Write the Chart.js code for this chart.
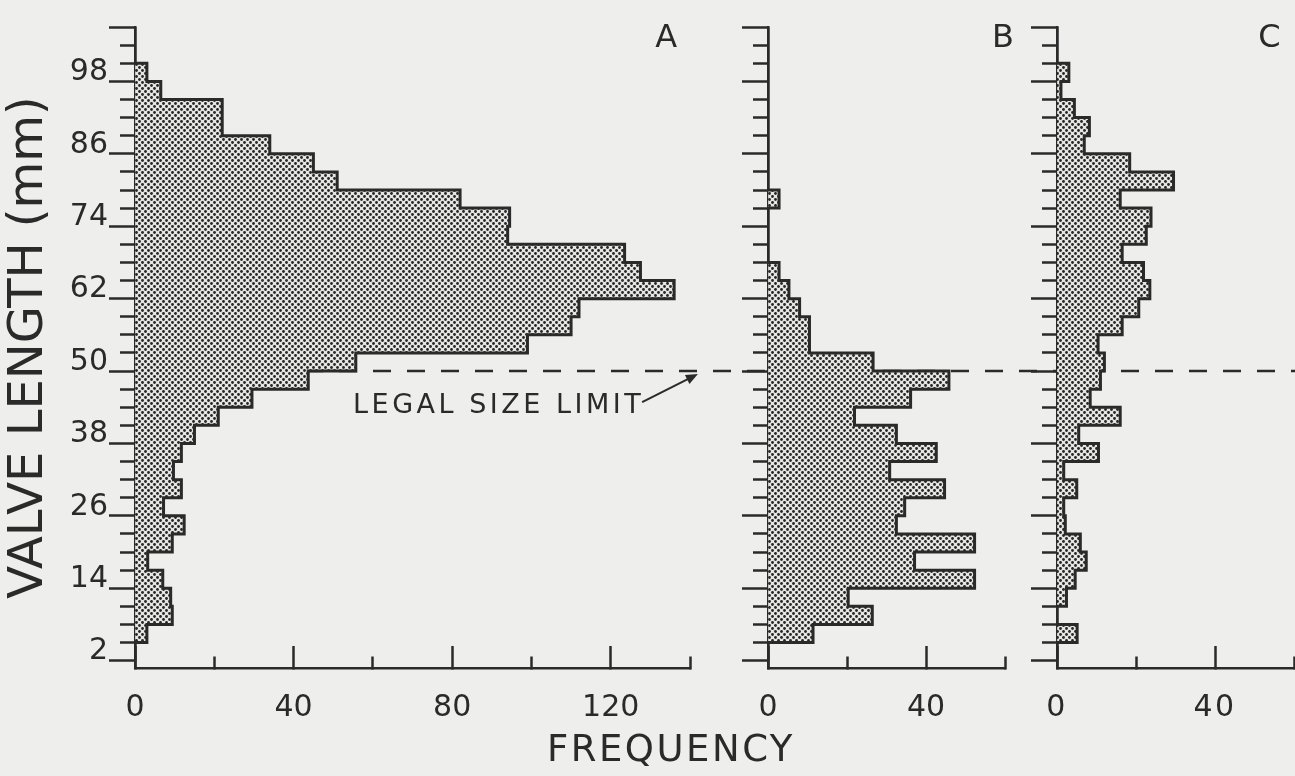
<!DOCTYPE html>
<html>
<head>
<meta charset="utf-8">
<script src="https://cdn.jsdelivr.net/npm/chart.js@4.4.1/dist/chart.umd.min.js"></script>
<style>
  html, body { margin: 0; padding: 0; background: #eeeeec; }
  #wrap { position: relative; width: 1295px; height: 776px; }
  #wrap canvas { position: absolute; left: 0; top: 0; }
</style>
</head>
<body>
<div id="wrap">
  <canvas id="chart_a" width="1295" height="776"></canvas>
  <canvas id="chart_b" width="1295" height="776"></canvas>
  <canvas id="chart_c" width="1295" height="776"></canvas>
</div>
<script>
// valve length classes (mm), 3 mm bins centred on the ticks
const lengthBins = [2, 5, 8, 11, 14, 17, 20, 23, 26, 29, 32, 35, 38, 41, 44, 47, 50, 53, 56, 59,
                    62, 65, 68, 71, 74, 77, 80, 83, 86, 89, 92, 95, 98, 101, 104];
const lengthLabels = [2, 14, 26, 38, 50, 62, 74, 86, 98];

const freqA = [0, 3, 9.4, 9, 7, 3.2, 9.4, 12.4, 7.2, 11.7, 9.7, 11.7, 15, 21, 29.5, 43.7, 55.7, 99, 110, 112,
               136, 127.5, 123.5, 94, 94.5, 82, 51, 45, 34, 22, 22, 6.5, 3, 0, 0];
const freqB = [0, 11.4, 26.4, 20.3, 52.3, 37.1, 52.3, 32.5, 34.6, 44.7, 30.8, 42.6, 32.5, 21.9, 36.1, 45.8, 26.6, 10.5, 10.5, 8,
               5.3, 2.8, 0, 0, 0, 2.8, 0, 0, 0, 0, 0, 0, 0, 0, 0];
const freqC = [0, 5.1, 0, 2.4, 4.6, 7.4, 5.9, 2.1, 1.7, 5, 1.7, 10.5, 5.5, 16, 8.4, 11, 12, 10.4, 16.5, 20.7,
               23.5, 21.9, 16.5, 22.6, 23.8, 16, 29.5, 18.4, 6.9, 8.2, 4.4, 1, 3, 0, 0];

const freqTicksA = [0, 40, 80, 120];
const freqTicksBC = [0, 40];
const legalSizeLimit = 48.5;

const ink = '#2a2a2a';
const fontFamily = "'DejaVu Sans', 'Lato', sans-serif";

function dotPattern() {
    const tile = document.createElement('canvas');
    tile.width = 6;
    tile.height = 6;
    const g = tile.getContext('2d');
    g.fillStyle = '#e6e6e3';
    g.fillRect(0, 0, 6, 6);
    g.fillStyle = '#262626';
    [[1.5, 1.5], [4.5, 4.5]].forEach(([cx, cy]) => {
        g.beginPath();
        g.arc(cx, cy, 1.4, 0, Math.PI * 2);
        g.fill();
    });
    return g.createPattern(tile, 'repeat');
}
const stipple = dotPattern();

function freqGrid(max) {
    const t = [];
    for (let v = 0; v <= max; v += 20) t.push(v);
    return t;
}

// panel letters, legal size line and its note
const panelMarks = {
    id: 'panelMarks',
    beforeDraw(chart, args, opts) {
        chart.ctx.letterSpacing = opts.spacing || '0px';
    },
    beforeDatasetsDraw(chart, args, opts) {
        if (!opts.limitLine) return;
        const {ctx, scales: {x, y}} = chart;
        const py = y.getPixelForValue(legalSizeLimit);
        ctx.save();
        ctx.strokeStyle = ink;
        ctx.lineWidth = 2.5;
        ctx.setLineDash([18, 16]);
        ctx.beginPath();
        ctx.moveTo(x.getPixelForValue(0), py);
        ctx.lineTo(chart.width, py);
        ctx.stroke();
        ctx.restore();
    },
    afterDraw(chart, args, opts) {
        const {ctx, scales: {x, y}} = chart;
        ctx.save();
        ctx.fillStyle = ink;
        ctx.letterSpacing = '0px';
        ctx.font = '32px ' + fontFamily;
        ctx.textAlign = 'center';
        ctx.textBaseline = 'alphabetic';
        ctx.fillText(opts.letter, x.getPixelForValue(opts.letterAt), y.getPixelForValue(102.15));
        if (opts.limitText) {
            ctx.font = '27px ' + fontFamily;
            ctx.letterSpacing = '3.5px';
            ctx.textAlign = 'left';
            ctx.textBaseline = 'middle';
            const tx = x.getPixelForValue(55);
            const ty = y.getPixelForValue(42.7);
            ctx.fillText('LEGAL SIZE LIMIT', tx, ty);
            const w = ctx.measureText('LEGAL SIZE LIMIT').width;
            const x0 = tx + w - 2, y0 = ty - 4;
            const x1 = x.getPixelForValue(142), y1 = y.getPixelForValue(48);
            const a = Math.atan2(y1 - y0, x1 - x0);
            ctx.strokeStyle = ink;
            ctx.lineWidth = 2;
            ctx.beginPath();
            ctx.moveTo(x0, y0);
            ctx.lineTo(x1 - 8 * Math.cos(a), y1 - 8 * Math.sin(a));
            ctx.stroke();
            ctx.beginPath();
            ctx.moveTo(x1, y1);
            ctx.lineTo(x1 - 12 * Math.cos(a) + 5 * Math.sin(a), y1 - 12 * Math.sin(a) - 5 * Math.cos(a));
            ctx.lineTo(x1 - 12 * Math.cos(a) - 5 * Math.sin(a), y1 - 12 * Math.sin(a) + 5 * Math.cos(a));
            ctx.closePath();
            ctx.fill();
        }
        ctx.restore();
    }
};

function noScalePadding(s) {
    s.paddingLeft = 0;
    s.paddingRight = 0;
    s.paddingTop = 0;
    s.paddingBottom = 0;
}

function makePanel(p) {
    const half = 1.5;
    const bars = lengthBins.map((len, i) => ({x: p.freq[i], y: len}));
    const outline = [{x: 0, y: lengthBins[0] - half}];
    lengthBins.forEach((len, i) => {
        outline.push({x: p.freq[i], y: len - half}, {x: p.freq[i], y: len + half});
    });
    outline.push({x: 0, y: lengthBins[lengthBins.length - 1] + half});

    const tickFont = {family: fontFamily, size: 30};
    const isMajorFreq = c => !c.tick || p.majorTicks.includes(c.tick.value);
    const isMajorLength = c => !c.tick || lengthLabels.includes(c.tick.value);

    return new Chart(document.getElementById(p.id), {
        type: 'bar',
        data: {
            datasets: [{
                type: 'line',
                data: outline,
                borderColor: ink,
                borderWidth: 3,
                pointRadius: 0,
                fill: false,
                tension: 0,
                order: 0
            }, {
                type: 'bar',
                data: bars,
                backgroundColor: stipple,
                borderWidth: 0,
                barPercentage: 1,
                categoryPercentage: 1,
                order: 1
            }]
        },
        options: {
            indexAxis: 'y',
            responsive: false,
            devicePixelRatio: 1,
            animation: false,
            events: [],
            layout: {padding: {left: p.pad.left, right: p.pad.right, top: 27, bottom: 0}},
            scales: {
                x: {
                    type: 'linear', position: 'bottom',
                    min: 0, max: p.max, bounds: 'data',
                    afterFit: s => { s.height = p.xHeight; noScalePadding(s); },
                    afterBuildTicks: s => { s.ticks = freqGrid(p.max).map(v => ({value: v})); },
                    grid: {
                        drawOnChartArea: false,
                        tickLength: -22,
                        tickColor: ink,
                        tickWidth: 2.5,
                        // short ticks between the labelled ones
                        tickBorderDash: c => isMajorFreq(c) ? [] : [13, 40]
                    },
                    border: {display: true, color: ink, width: 2.5},
                    ticks: {
                        autoSkip: false, maxRotation: 0, padding: 44, color: ink, font: tickFont,
                        callback: v => p.majorTicks.includes(v) ? String(v) : ''
                    }
                },
                y: {
                    type: 'linear', position: 'left',
                    min: 0.8, max: 104, bounds: 'data',
                    afterFit: s => { s.width = p.yWidth; noScalePadding(s); },
                    afterBuildTicks: s => { s.ticks = lengthBins.map(v => ({value: v})); },
                    grid: {
                        drawOnChartArea: false,
                        tickLength: 26,
                        tickColor: ink,
                        tickWidth: 2.5,
                        tickBorderDash: c => isMajorLength(c) ? [] : [0, 11, 40]
                    },
                    border: {display: true, color: ink, width: 2.5},
                    ticks: {
                        display: !!p.showLengthLabels, autoSkip: false, padding: 1, color: ink, font: tickFont,
                        callback: v => lengthLabels.includes(v) ? String(v) : ''
                    },
                    title: {
                        display: !!p.showLengthLabels,
                        text: 'VALVE LENGTH (mm)',
                        color: ink,
                        font: {family: fontFamily, size: 48, lineHeight: 1},
                        padding: {top: 6, bottom: 0}
                    }
                }
            },
            plugins: {
                legend: {display: false},
                tooltip: {enabled: false},
                title: {
                    display: !!p.freqTitle,
                    text: 'FREQUENCY',
                    position: 'bottom',
                    align: 'start',
                    fullSize: true,
                    color: ink,
                    font: {family: fontFamily, size: 37, weight: 'normal', lineHeight: 1},
                    padding: {top: 8, bottom: 6}
                },
                panelMarks: {
                    letter: p.letter,
                    letterAt: p.letterAt,
                    limitLine: !!p.limitLine,
                    limitText: !!p.limitLine,
                    spacing: p.spacing
                }
            }
        },
        plugins: [panelMarks]
    });
}

const panels = [
    {id: 'chart_a', letter: 'A', freq: freqA, max: 140, majorTicks: freqTicksA,
     pad: {left: 0, right: 605}, yWidth: 135, xHeight: 108, letterAt: 134,
     showLengthLabels: true, limitLine: true, spacing: '0px'},
    {id: 'chart_b', letter: 'B', freq: freqB, max: 60, majorTicks: freqTicksBC,
     pad: {left: 700, right: 290}, yWidth: 68, xHeight: 108, letterAt: 59.5},
    {id: 'chart_c', letter: 'C', freq: freqC, max: 60, majorTicks: freqTicksBC,
     pad: {left: 547, right: 1}, yWidth: 510, xHeight: 57, letterAt: 53.8,
     freqTitle: true, spacing: '2.5px'}
];

const charts = panels.map(makePanel);
</script>
</body>
</html>
